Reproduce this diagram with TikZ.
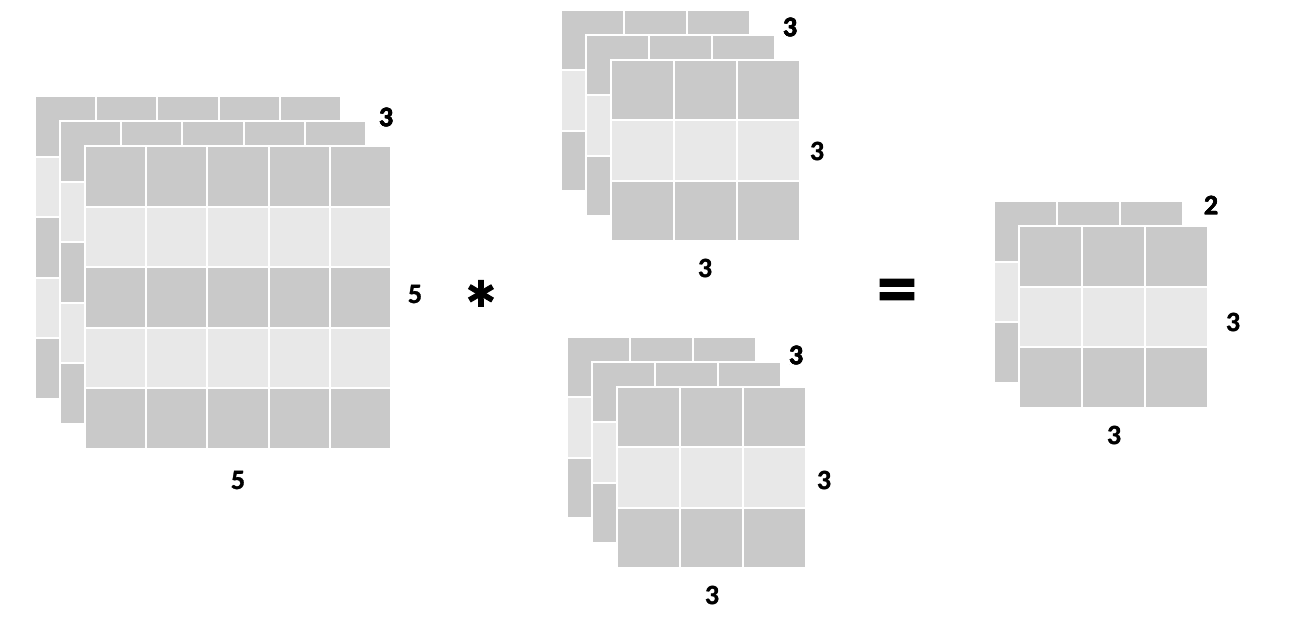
\documentclass[tikz,border=0pt]{standalone}
\usepackage{fontspec}
\setmainfont{Carlito}[BoldFeatures={FakeBold=1.2}]
\definecolor{cellgray}{HTML}{C9C9C9}
\definecolor{rowgray}{HTML}{E8E8E8}
\tikzset{
  dark cell/.style={fill=cellgray, draw=white, line width=2pt},
  light cell/.style={fill=rowgray, draw=white, line width=2pt},
  dim/.style={font=\fontsize{28}{32}\selectfont\bfseries},
  op/.style={font=\fontsize{80}{80}\selectfont\bfseries}
}
% one layer of a stack: x, y, columns, rows, cell width, cell height
\newcommand{\gridlayer}[6]{%
  \foreach \r in {1,...,#4}{
    \foreach \c in {1,...,#3}{
      \ifodd\r \def\cellstyle{dark cell}\else \def\cellstyle{light cell}\fi
      \path[\cellstyle] ({#1+(\c-1)*#5},{#2+(\r-1)*#6}) rectangle ++(#5,#6);
    }
  }
}
\begin{document}
\begin{tikzpicture}[x=1pt,y=-1pt]
\useasboundingbox (0,0) rectangle (1292,630);
% input volume 5x5x3
\foreach \k in {0,1,2}
  \gridlayer{35+25*\k}{96+25*\k}{5}{5}{61.2}{60.6}
\node[dim] (in-depth) at (386,117) {3};
\node[dim] (in-height) at (415,294) {5};
\node[dim] (in-width) at (238,480) {5};
% convolution sign
\node[op,yshift=-14pt] (conv) at (481,295) {*};
% first filter 3x3x3
\foreach \k in {0,1,2}
  \gridlayer{561+25*\k}{9.5+25*\k}{3}{3}{63}{60.5}
\node[dim] (fa-depth) at (790,27) {3};
\node[dim] (fa-height) at (817,151) {3};
\node[dim] (fa-width) at (705,268) {3};
% second filter 3x3x3
\foreach \k in {0,1,2}
  \gridlayer{567+25*\k}{336.5+25*\k}{3}{3}{63}{60.5}
\node[dim] (fb-depth) at (796,355) {3};
\node[dim] (fb-height) at (824,480) {3};
\node[dim] (fb-width) at (712,595) {3};
% equals sign
\node[op,yshift=-6pt] (eq) at (897,291) {=};
% output volume 3x3x2
\foreach \k in {0,1}
  \gridlayer{994+25*\k}{201+25*\k}{3}{3}{63}{60.5}
\node[dim] (out-depth) at (1211,205) {2};
\node[dim] (out-height) at (1233,322) {3};
\node[dim] (out-width) at (1114,435) {3};
\end{tikzpicture}
\end{document}
